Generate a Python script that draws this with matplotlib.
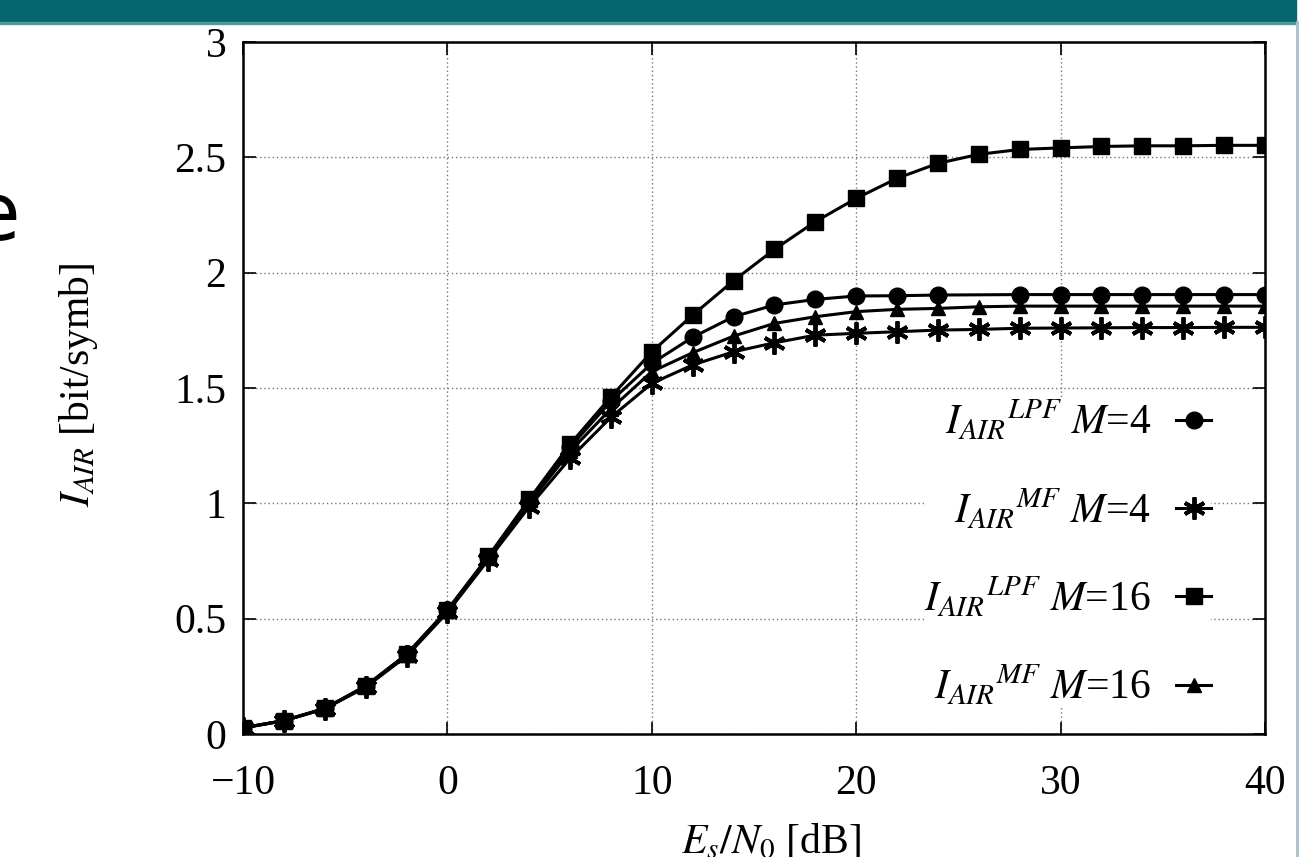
"""
    Recreates the I_AIR vs Es/N0 curve figure (LPF / MF receivers, M=4 and M=16).
"""


# ------ Environment Setup ------ #
import matplotlib
matplotlib.use("Agg")
import matplotlib.pyplot as plt
from matplotlib.patches import Rectangle
from matplotlib.lines import Line2D


# ------ Data ------ #
snr_db = [-10, -8, -6, -4, -2, 0, 2, 4, 6, 8, 10, 12, 14, 16, 18, 20,
          22, 24, 26, 28, 30, 32, 34, 36, 38, 40]

lpf_m4 = [0.027, 0.058, 0.111, 0.208, 0.345, 0.537, 0.768, 1.012, 1.243, 1.443,
          1.607, 1.720, 1.809, 1.860, 1.884, 1.899, 1.900, 1.903, 1.904, 1.905,
          1.905, 1.905, 1.905, 1.905, 1.905, 1.905]
mf_m4 = [0.026, 0.057, 0.109, 0.203, 0.337, 0.527, 0.755, 0.985, 1.195, 1.373,
         1.520, 1.600, 1.657, 1.696, 1.729, 1.737, 1.744, 1.751, 1.754, 1.759,
         1.760, 1.761, 1.762, 1.762, 1.763, 1.763]
lpf_m16 = [0.027, 0.058, 0.111, 0.208, 0.345, 0.538, 0.770, 1.017, 1.256, 1.462,
           1.657, 1.816, 1.965, 2.101, 2.221, 2.322, 2.409, 2.474, 2.513, 2.534,
           2.541, 2.547, 2.550, 2.550, 2.552, 2.552]
mf_m16 = [0.027, 0.058, 0.110, 0.206, 0.341, 0.532, 0.762, 1.000, 1.225, 1.410,
          1.571, 1.653, 1.725, 1.780, 1.809, 1.831, 1.841, 1.845, 1.852, 1.855,
          1.855, 1.855, 1.855, 1.855, 1.855, 1.855]

labels = [r"$I_{AIR}{}^{LPF}$ $M$=4", r"$I_{AIR}{}^{MF}$ $M$=4",
          r"$I_{AIR}{}^{LPF}$ $M$=16", r"$I_{AIR}{}^{MF}$ $M$=16"]

x_ticks = [-10, 0, 10, 20, 30, 40]
y_ticks = [0, 0.5, 1, 1.5, 2, 2.5, 3]
y_tick_labels = ["0", "0.5", "1", "1.5", "2", "2.5", "3"]


# ------ Style ------ #
plt.rcParams["font.family"] = "serif"
plt.rcParams["font.serif"] = ["Liberation Serif", "DejaVu Serif"]
plt.rcParams["mathtext.fontset"] = "stix"
plt.rcParams["font.size"] = 30


# ------ Plotting ------ #
fig = plt.figure(figsize=(13.06, 8.57), dpi=100)
ax = fig.add_axes([243 / 1306, 1 - 734 / 857, 1022 / 1306, 692 / 857])

# slide decorations (banner on top, thin line on the right, cut "e" on the left)
fig.add_artist(Rectangle((0, 1 - 22 / 857), 1296 / 1306, 22 / 857,
                         transform=fig.transFigure, color="#06656f", zorder=0))
fig.add_artist(Rectangle((0, 1 - 24 / 857), 1296 / 1306, 2 / 857,
                         transform=fig.transFigure, color="#4f9aa1", zorder=0))
fig.add_artist(Line2D([1297 / 1306, 1297 / 1306], [0, 1 - 22 / 857],
                      transform=fig.transFigure, color="#a9c0ca", lw=2))
fig.text(20 / 1306, 1 - 240 / 857, "e", family="DejaVu Sans", fontsize=58,
         ha="right", va="baseline")

# curves
style = dict(color="black", lw=2.2)
ax.plot(snr_db, lpf_m4, marker="o", ms=12,
        markevery=[i for i in range(len(snr_db)) if snr_db[i] != 26],
        label=labels[0], **style)
ax.plot(snr_db, mf_m4, marker=(6, 2, 0), ms=16, mew=2.8, label=labels[1], **style)
ax.plot(snr_db, lpf_m16, marker="s", ms=12, label=labels[2], **style)
ax.plot(snr_db, mf_m16, marker="^", ms=10, label=labels[3], **style)

# axes
ax.set_xlim(-10, 40)
ax.set_ylim(0, 3)
ax.set_xticks(x_ticks)
ax.set_yticks(y_ticks)
ax.set_yticklabels(y_tick_labels)
ax.tick_params(direction="in", length=9, width=1.2, top=True, right=True)
ax.tick_params(axis="x", pad=22)
ax.tick_params(axis="y", pad=12)
for spine in ax.spines.values():
    spine.set_linewidth(1.8)
ax.grid(True, color="#777777", lw=1.0, linestyle=(0, (1, 2)))
ax.set_axisbelow(True)

# labels
ax.set_xlabel(r"$E_s/N_0$ [dB]")
ax.xaxis.set_label_coords(0.517, -0.128)
ax.set_ylabel(r"$I_{AIR}$ [bit/symb]")
ax.yaxis.set_label_coords(-0.14, 0.504)

# legend (gnuplot style: text then sample, white box without border)
leg = ax.legend(loc="lower right", bbox_to_anchor=(0.968, 0.007),
                markerfirst=False, handlelength=0.85, handletextpad=0.6,
                labelspacing=1.05, borderpad=0.0, frameon=True,
                fancybox=False, framealpha=1.0, edgecolor="none",
                facecolor="white")

plt.savefig("out.png", dpi=100)
